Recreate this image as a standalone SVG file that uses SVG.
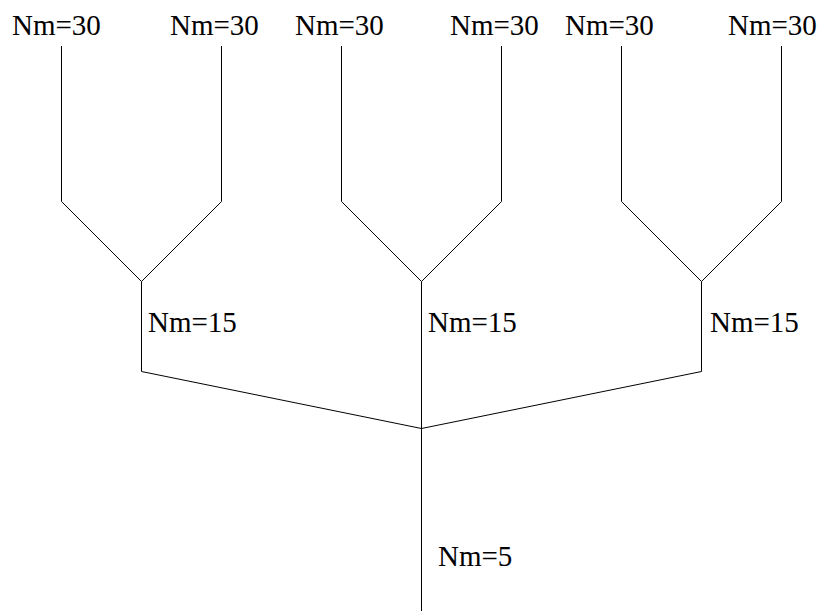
<svg xmlns="http://www.w3.org/2000/svg" width="823" height="611" viewBox="0 0 823 611">
<style>
.c{fill:none;stroke:#000;stroke-width:1}
.t{font-family:'Liberation Serif','DejaVu Serif',serif;font-size:29px;fill:#000}
</style>
<rect width="823" height="611" fill="#fff"/>
<g id="connectors">
<polyline class="c" points="61.5,46 61.5,201.5 141.5,281.5 221.5,201.5 221.5,46"/>
<polyline class="c" points="341.5,46 341.5,201.5 421.5,281.5 501.5,201.5 501.5,46"/>
<polyline class="c" points="621.5,46 621.5,201.5 701.5,281.5 781.5,201.5 781.5,46"/>
<polyline class="c" points="141.5,281.5 141.5,371.5 421.5,428.5 701.5,371.5 701.5,281.5"/>
<line class="c" x1="421.5" y1="281.5" x2="421.5" y2="611"/>
</g>
<g id="n1"><text class="t" x="12" y="35">Nm=30</text></g>
<g id="n2"><text class="t" x="170" y="35">Nm=30</text></g>
<g id="n3"><text class="t" x="295" y="35">Nm=30</text></g>
<g id="n4"><text class="t" x="450" y="35">Nm=30</text></g>
<g id="n5"><text class="t" x="565" y="35">Nm=30</text></g>
<g id="n6"><text class="t" x="728" y="35">Nm=30</text></g>
<g id="m1"><text class="t" x="148" y="332">Nm=15</text></g>
<g id="m2"><text class="t" x="428" y="332">Nm=15</text></g>
<g id="m3"><text class="t" x="710" y="332">Nm=15</text></g>
<g id="root"><text class="t" x="438" y="566">Nm=5</text></g>
</svg>
